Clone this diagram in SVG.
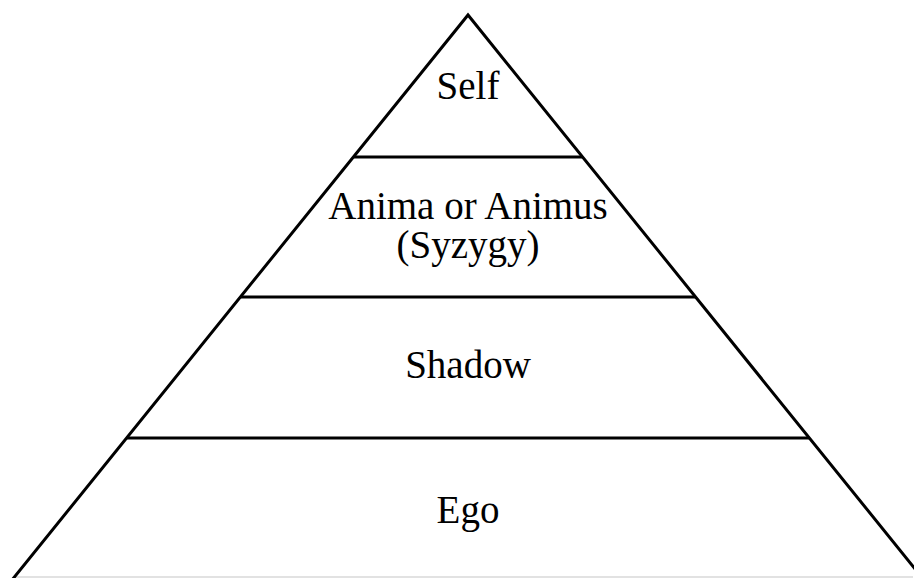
<svg xmlns="http://www.w3.org/2000/svg" width="914" height="578" viewBox="0 0 914 578">
<style>
.edge{stroke:#000;stroke-width:3;fill:none;stroke-linecap:butt;stroke-linejoin:miter}
.lbl{font-family:"Liberation Serif","Times New Roman",serif;font-size:39px;fill:#000;text-anchor:middle}
</style>
<rect width="914" height="578" fill="#fff"/>
<g id="connectors">
<line x1="14" y1="577" x2="913" y2="577" stroke="#d9d9d9" stroke-width="1.5"/>
<polyline class="edge" points="12,580 468,15 924,580"/>
<line class="edge" x1="354" y1="157" x2="582" y2="157"/>
<line class="edge" x1="241" y1="297" x2="695" y2="297"/>
<line class="edge" x1="127" y1="438" x2="809" y2="438"/>
</g>
<g id="self"><text class="lbl" x="468" y="99">Self</text></g>
<g id="anima"><text class="lbl" x="468" y="219">Anima or Animus</text><text class="lbl" x="468" y="258">(Syzygy)</text></g>
<g id="shadow"><text class="lbl" x="468" y="378">Shadow</text></g>
<g id="ego"><text class="lbl" x="468" y="523">Ego</text></g>
</svg>
